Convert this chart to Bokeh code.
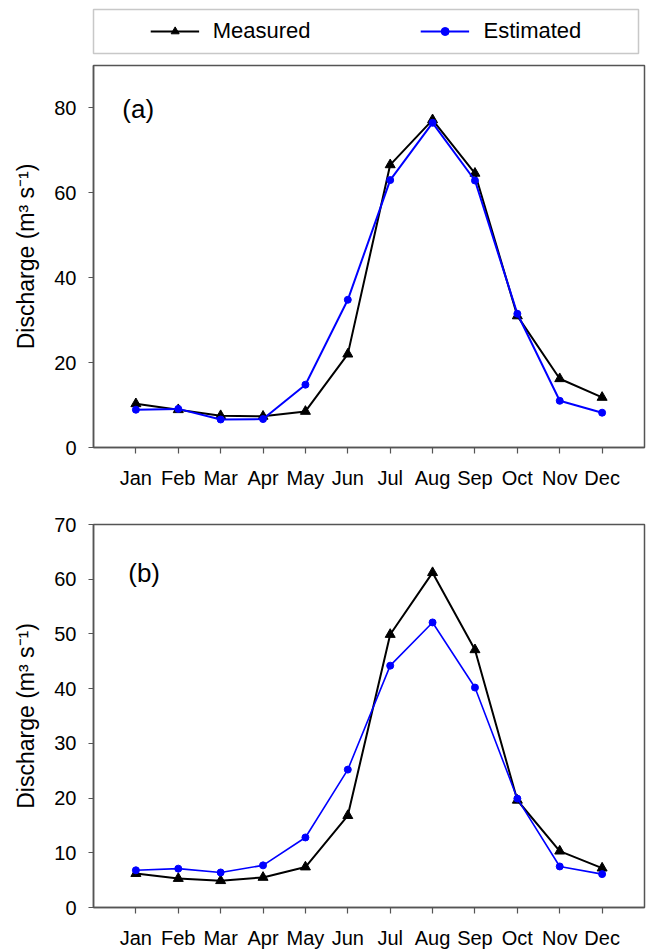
from bokeh.plotting import figure
from bokeh.layouts import column
from bokeh.models import Range1d, FixedTicker, Legend, LegendItem, Label
from bokeh.embed import file_html
from bokeh.resources import INLINE

months = ["Jan", "Feb", "Mar", "Apr", "May", "Jun", "Jul", "Aug", "Sep", "Oct", "Nov", "Dec"]
measured_a = [10.3, 8.9, 7.5, 7.35, 8.5, 22.0, 66.6, 77.2, 64.6, 31.0, 16.2, 11.8]
estimated_a = [8.9, 9.1, 6.6, 6.7, 14.8, 34.8, 63.0, 76.5, 62.9, 31.5, 11.0, 8.2]
measured_b = [6.2, 5.3, 4.9, 5.5, 7.4, 16.8, 49.9, 61.2, 47.1, 19.6, 10.3, 7.2]
estimated_b = [6.8, 7.1, 6.4, 7.7, 12.8, 25.2, 44.2, 52.1, 40.2, 19.9, 7.5, 6.1]
yticks_a = [0, 20, 40, 60, 80]
yticks_b = [0, 10, 20, 30, 40, 50, 60, 70]

FONT = "Liberation Sans"
GRAY = "#555555"
x = list(range(1, len(months) + 1))
NAN = [float("nan")]


def panel(ymax, yticks, meas, est, tag, tag_x, tag_y, top, fh, bottom, blue_w):
    p = figure(width=654, frame_width=551, frame_height=fh,
               min_border_left=93, min_border_right=10,
               min_border_top=top, min_border_bottom=bottom,
               x_range=Range1d(0, 13), y_range=Range1d(0, ymax),
               output_backend="svg", toolbar_location=None)
    p.grid.visible = False
    p.outline_line_color = GRAY
    p.outline_line_width = 1.5
    p.background_fill_color = "white"
    p.border_fill_color = "white"

    p.xaxis.ticker = FixedTicker(ticks=x)
    p.xaxis.major_label_overrides = {i: m for i, m in zip(x, months)}
    p.yaxis.ticker = FixedTicker(ticks=yticks)
    for ax in (p.xaxis[0], p.yaxis[0]):
        ax.axis_line_color = GRAY
        ax.axis_line_width = 1.5
        ax.major_tick_line_color = GRAY
        ax.major_tick_line_width = 1.2
        ax.major_tick_in = 0
        ax.minor_tick_line_color = None
        ax.major_label_text_font = FONT
        ax.major_label_text_font_size = "20px"
        ax.major_label_text_color = "black"
    p.xaxis.major_tick_out = 6
    p.xaxis.major_label_standoff = 13
    p.yaxis.major_tick_out = 5
    p.yaxis.major_label_standoff = 12
    p.yaxis.axis_label = "Discharge (m\u00b3 s\u207b\u00b9)"
    p.yaxis.axis_label_text_font = FONT
    p.yaxis.axis_label_text_font_size = "23px"
    p.yaxis.axis_label_text_font_style = "normal"
    p.yaxis.axis_label_text_color = "black"
    p.yaxis.axis_label_standoff = 12

    p.line(x, meas, line_color="black", line_width=2)
    p.scatter(x, meas, marker="triangle", size=10, fill_color="black", line_color="black")
    p.line(x, est, line_color="#0000FF", line_width=blue_w)
    p.scatter(x, est, marker="circle", size=7, fill_color="#0000FF", line_color="#0000FF")

    p.add_layout(Label(x=tag_x, y=tag_y, text=tag, text_font=FONT, text_font_size="26px",
                       text_baseline="middle", text_color="black"))
    return p


# legend strip (proxy renderers carry no visible data)
lg = figure(width=654, frame_width=545, frame_height=44,
            min_border_left=93, min_border_right=16, min_border_top=9, min_border_bottom=5,
            x_range=Range1d(0, 1), y_range=Range1d(0, 1),
            output_backend="svg", toolbar_location=None)
lg.axis.visible = False
lg.grid.visible = False
lg.outline_line_color = "#c8c8c8"
lg.outline_line_width = 1.5
r1 = lg.line(NAN, NAN, line_color="black", line_width=2)
r2 = lg.scatter(NAN, NAN, marker="triangle", size=10, fill_color="black", line_color="black")
r3 = lg.line(NAN, NAN, line_color="#0000FF", line_width=2)
r4 = lg.scatter(NAN, NAN, marker="circle", size=7, fill_color="#0000FF", line_color="#0000FF")
legend = Legend(items=[LegendItem(label="Measured", renderers=[r1, r2]),
                       LegendItem(label="Estimated", renderers=[r3, r4])],
                orientation="horizontal", location="center",
                padding=0, margin=0, spacing=110, glyph_width=49, glyph_height=20,
                label_standoff=14, label_text_font=FONT, label_text_font_size="22px",
                label_text_color="black",
                border_line_alpha=0, background_fill_alpha=0)
lg.add_layout(legend, "center")

pa = panel(90, yticks_a, measured_a, estimated_a, "(a)", 0.68, 79.8, 7, 382, 63, 2)
pb = panel(70, yticks_b, measured_b, estimated_b, "(b)", 0.82, 61.1, 14, 383, 45, 1.6)

layout = column(lg, pa, pb, spacing=0)
open("out.html", "w").write(file_html(layout, INLINE))
